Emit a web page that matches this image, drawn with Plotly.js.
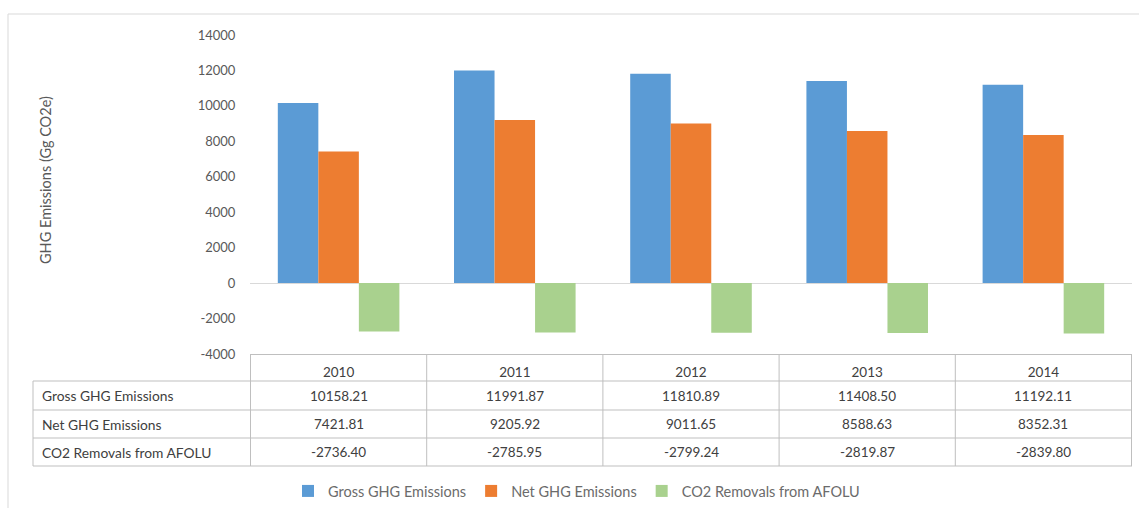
<!DOCTYPE html>
<html>
<head>
<meta charset="utf-8">
<script src="https://cdn.plot.ly/plotly-3.0.1.min.js"></script>
<style>html,body{margin:0;padding:0;background:#fff;}#chart{width:1139px;height:508px;}</style>
</head>
<body>
<div id="chart"></div>
<script>
// ---- data ----
const years = ['2010', '2011', '2012', '2013', '2014'];
const seriesNames = ['Gross GHG Emissions', 'Net GHG Emissions', 'CO2 Removals from AFOLU'];
const gross = [10158.21, 11991.87, 11810.89, 11408.50, 11192.11];
const net = [7421.81, 9205.92, 9011.65, 8588.63, 8352.31];
const removals = [-2736.40, -2785.95, -2799.24, -2819.87, -2839.80];
const yTicks = [-4000, -2000, 0, 2000, 4000, 6000, 8000, 10000, 12000, 14000];
const yTitle = 'GHG Emissions (Gg CO2e)';

// ---- layout helpers (pixel -> paper) ----
const W = 1139, H = 508;
const L = 250, R = 7, T = 35, B = 154;
const PW = W - L - R, PH = H - T - B;
const px = x => (x - L) / PW;
const py = y => (H - B - y) / PH;

const FONT = 'Lato, "Open Sans", sans-serif';
const colors = ['#5B9BD5', '#ED7D31', '#A9D18E'];
const seriesData = [gross, net, removals];

const traces = seriesData.map((vals, i) => ({
  type: 'bar',
  name: seriesNames[i],
  x: years,
  y: vals,
  marker: {color: colors[i], line: {width: 0}},
  hoverinfo: 'x+y+name'
}));

// table geometry (pixels)
const rowTops = [381, 410, 438, 466];
const tableLeft = 33;
const lineColor = '#BFBFBF';
const shapes = [];
rowTops.forEach(y => shapes.push({type: 'line', xref: 'paper', yref: 'paper',
  x0: px(tableLeft), x1: 1, y0: py(y), y1: py(y), line: {color: lineColor, width: 1}}));
shapes.push({type: 'line', xref: 'paper', yref: 'paper', x0: px(tableLeft), x1: px(tableLeft),
  y0: py(rowTops[0]), y1: py(rowTops[3]), line: {color: lineColor, width: 1}});
for (let k = 0; k <= years.length; k++) {
  shapes.push({type: 'line', xref: 'x', yref: 'paper', x0: k - 0.5, x1: k - 0.5,
    y0: 0, y1: py(rowTops[3]), line: {color: lineColor, width: 1}});
}
shapes.push({type: 'rect', xref: 'paper', yref: 'paper', x0: px(8), x1: px(1160),
  y0: py(14), y1: py(530), line: {color: '#D9D9D9', width: 1}, fillcolor: 'rgba(0,0,0,0)', layer: 'below'});

const annotations = [];
const rowCenters = [(381 + 410) / 2, (410 + 438) / 2, (438 + 466) / 2];
seriesData.forEach((vals, r) => {
  annotations.push({xref: 'paper', yref: 'paper', x: px(40), y: py(rowCenters[r]),
    xanchor: 'left', yanchor: 'middle', showarrow: false, text: seriesNames[r],
    font: {family: FONT, size: 13.8, color: '#404040'}});
  vals.forEach((v, c) => {
    annotations.push({xref: 'x', yref: 'paper', x: c, y: py(rowCenters[r]),
      xanchor: 'center', yanchor: 'middle', showarrow: false, text: v.toFixed(2),
      font: {family: FONT, size: 13.5, color: '#404040'}});
  });
});
annotations.push({xref: 'paper', yref: 'paper', x: px(45), y: py(180), textangle: -90,
  xanchor: 'center', yanchor: 'middle', showarrow: false, text: yTitle,
  font: {family: FONT, size: 14.5, color: '#595959'}});

const layout = {
  width: W, height: H,
  margin: {l: L, r: R, t: T, b: B, pad: 0, autoexpand: false},
  paper_bgcolor: '#fff', plot_bgcolor: '#fff',
  font: {family: FONT, size: 13, color: '#595959'},
  barmode: 'group', bargap: 0.31, bargroupgap: 0,
  showlegend: true,
  legend: {orientation: 'h', x: px(288), xanchor: 'left', y: py(491), yanchor: 'middle',
    font: {family: FONT, size: 14.5, color: '#6B6B6B'}, itemwidth: 30,
    traceorder: 'normal'},
  xaxis: {type: 'category', showgrid: false, zeroline: false, showline: true,
    linecolor: lineColor, linewidth: 1, ticks: 'outside', ticklen: 6,
    tickcolor: 'rgba(0,0,0,0)', tickfont: {family: FONT, size: 13.5, color: '#404040'},
    fixedrange: true},
  yaxis: {range: [-4000, 14000], tickvals: yTicks, ticktext: yTicks.map(String),
    showgrid: false, zeroline: true, zerolinecolor: '#D9D9D9', zerolinewidth: 1,
    showline: false, ticks: 'outside', ticklen: 11, tickcolor: 'rgba(0,0,0,0)',
    tickfont: {family: FONT, size: 13, color: '#595959'}, fixedrange: true},
  shapes: shapes,
  annotations: annotations
};

Plotly.newPlot('chart', traces, layout, {displayModeBar: false, staticPlot: true});
</script>
</body>
</html>
